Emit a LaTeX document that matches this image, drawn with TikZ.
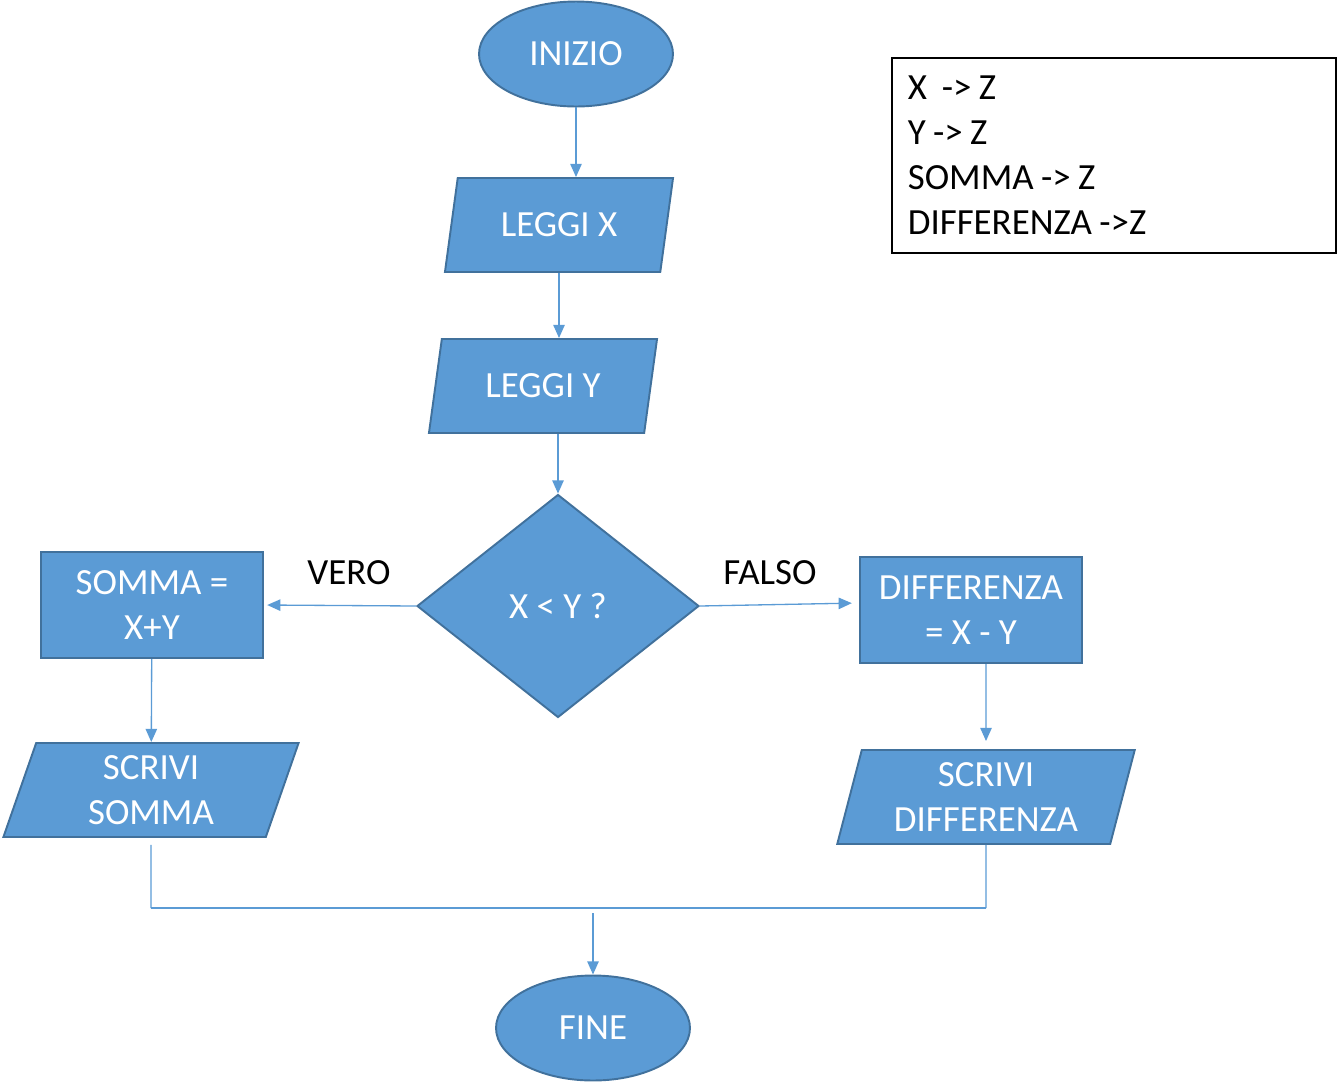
\documentclass[tikz,border=0pt]{standalone}
\usepackage{fontspec}
\setmainfont{Carlito}
\usetikzlibrary{shapes.geometric, arrows.meta}
\definecolor{boxblue}{HTML}{5B9BD5}
\definecolor{boxedge}{HTML}{41719C}
\newcommand{\tightspace}{\spaceskip=0.2em\relax}

\begin{document}
\begin{tikzpicture}[x=0.02cm, y=-0.02cm, font=\fontsize{21}{25.5}\selectfont,
    base/.style = {draw=boxedge, line width=1.1pt, fill=boxblue, text=white, align=center, inner sep=2pt},
    term/.style = {base, ellipse, minimum width=3.88cm, minimum height=2.1cm},
    io/.style = {base, trapezium, trapezium left angle=76, trapezium right angle=104, trapezium stretches=true, minimum width=4.58cm, minimum height=1.88cm},
    proc/.style = {base, rectangle, minimum width=4.45cm, minimum height=2.13cm},
    dec/.style = {base, diamond, minimum width=5.64cm, minimum height=4.46cm},
    legend/.style = {draw=black, line width=1pt, anchor=north west, align=left, inner xsep=0.32cm, text width=8.24cm, minimum height=3.9cm},
    line/.style = {draw=boxblue, line width=0.75pt},
    arr/.style = {line, -{Triangle[length=7.5pt, width=6.5pt]}}]
    \useasboundingbox (0,0) rectangle (1340,1083);

    \node[term] (inizio) at (576,54) {INIZIO};
    \node[io] (lx) at (559,225) {LEGGI X};
    \node[io] (ly) at (543,386) {LEGGI Y};
    \node[dec] (test) at (558,606) {X < Y ?};
    \node[proc] (somma) at (152,605) {SOMMA =\\X+Y};
    \node[proc] (diff) at (971,610) {DIFFERENZA\\= X - Y};
    \node[io, minimum width=5.96cm] (ss) at (151,790) {SCRIVI\\SOMMA};
    \node[io, minimum width=5.96cm] (sd) at (986,797) {SCRIVI\\DIFFERENZA};
    \node[term] (fine) at (593,1028) {FINE};
    \node (vero) at (349,573) {VERO};
    \node (falso) at (770,573) {FALSO};
    \node[legend] (leg) at (891,57) {\tightspace X~~-> Z\\Y -> Z\\SOMMA -> Z\\DIFFERENZA ->Z};

    \coordinate (jl) at (151,908);
    \coordinate (jr) at (986,908);
    \coordinate (jm) at (593,913);

    \draw[arr] (inizio) -- (inizio |- lx.north);
    \draw[arr] (lx.south) -- (lx.south |- ly.north);
    \draw[arr] (ly.south -| test) -- (test.north);
    \draw[arr, shorten >=0.06cm] (test.west) -- (somma.east);
    \draw[arr, shorten >=0.14cm] (test.east) -- ([yshift=0.14cm]diff.west);
    \draw[arr] (somma) -- (ss);
    \draw[arr, shorten >=0.16cm] (diff.south -| sd) -- (sd.north);
    \draw[line, shorten <=0.14cm] (ss.south) -- (jl);
    \draw[line] (sd.south) -- (jr);
    \draw[line] (jl) -- (jr);
    \draw[arr] (jm) -- (fine.north);
\end{tikzpicture}
\end{document}
